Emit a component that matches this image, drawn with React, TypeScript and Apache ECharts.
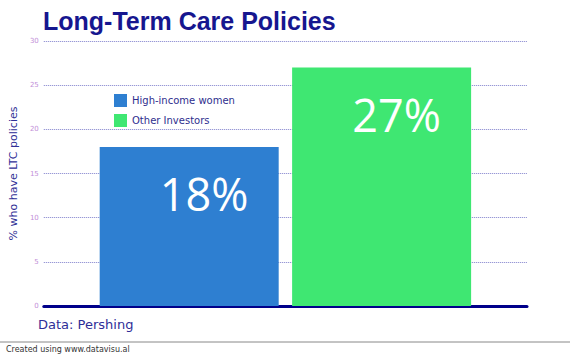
import React, { useEffect, useRef } from "react";
import * as echarts from "echarts";

const categories = [""];
const seriesNames = ["High-income women", "Other Investors"];
const seriesValues = [[18], [27]];
const seriesColors = ["#2e7fd1", "#3fe772"];
const yTicks = { min: 0, max: 30, interval: 5 };

export default function App() {
  const ref = useRef<HTMLDivElement>(null);
  useEffect(() => {
    if (!ref.current) return;
    const chart = echarts.init(ref.current, null, { renderer: "svg" });
    chart.setOption({
      animation: false,
      backgroundColor: "#ffffff",
      title: {
        text: "Long-Term Care Policies",
        left: 38,
        top: 3,
        textStyle: {
          fontFamily: "Liberation Sans",
          fontWeight: "bold",
          fontSize: 25,
          color: "#16168f",
        },
      },
      legend: {
        orient: "vertical",
        left: 109,
        top: 89,
        itemWidth: 13,
        itemHeight: 13,
        itemGap: 7,
        icon: "rect",
        data: seriesNames,
        textStyle: { fontFamily: "DejaVu Sans", fontSize: 10, color: "#2e2e8e" },
      },
      grid: { left: 37, right: 43, top: 41, bottom: 50 },
      xAxis: {
        type: "category",
        data: categories,
        axisLine: { show: true, lineStyle: { color: "#00008a", width: 3 } },
        axisTick: { show: false },
        axisLabel: { show: false },
      },
      yAxis: {
        type: "value",
        min: yTicks.min,
        max: yTicks.max,
        interval: yTicks.interval,
        name: "% who have LTC policies",
        nameLocation: "middle",
        nameGap: 24,
        nameTextStyle: { fontFamily: "DejaVu Sans", fontSize: 11, color: "#303096" },
        axisLine: { show: false },
        axisTick: { show: false },
        axisLabel: { fontFamily: "DejaVu Sans", fontSize: 7, color: "#c28fd8", margin: 5 },
        splitLine: { lineStyle: { color: "#7f7fcc", type: [1, 1], width: 1 } },
      },
      series: seriesNames.map((name, i) => ({
        name,
        type: "bar",
        data: seriesValues[i],
        barWidth: 179,
        barGap: "7.5%",
        itemStyle: { color: seriesColors[i] },
        label: {
          show: true,
          position: "insideTop",
          distance: 24,
          offset: [15, 0],
          formatter: "{c}%",
          fontFamily: "Open Sans",
          fontSize: 45,
          color: "#ffffff",
        },
      })),
      graphic: [
        {
          type: "text",
          left: 38,
          top: 318,
          style: { text: "Data: Pershing", fontFamily: "DejaVu Sans", fontSize: 13, fill: "#2e2e98" },
        },
        {
          type: "line",
          shape: { x1: 0, y1: 342, x2: 570, y2: 342 },
          style: { stroke: "#888888", lineWidth: 1 },
        },
        {
          type: "text",
          left: 6,
          top: 345,
          style: { text: "Created using www.datavisu.al", fontFamily: "DejaVu Sans", fontSize: 8, fill: "#333333" },
        },
      ],
    });
    return () => chart.dispose();
  }, []);
  return <div ref={ref} style={{ width: 570, height: 356, position: "absolute", left: 0, top: 0 }} />;
}
